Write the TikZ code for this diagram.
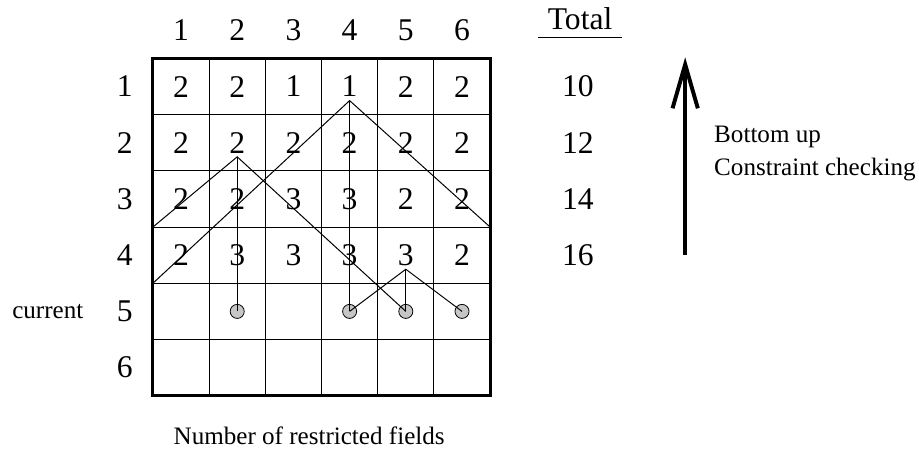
\documentclass[tikz,border=0pt]{standalone}
\usepackage{fontspec}
\setmainfont{Liberation Serif}
\usetikzlibrary{arrows.meta}
\begin{document}
\begin{tikzpicture}[x=1cm, y=1cm,
  big/.style={font=\fontsize{16}{19}\selectfont},
  small/.style={font=\fontsize{12.7}{15}\selectfont},
  dot/.style={circle, draw, line width=0.4pt, fill=gray!45, minimum size=0.25cm, inner sep=0pt},
  trace/.style={line width=0.5pt}]
\useasboundingbox (-2.72,-6.95) rectangle (13.63,1.04);
% Draw grid with thick border
\draw[line width=0.5pt] (0,-6) grid (6,0);
\draw[line width=1.5pt] (0,0) rectangle (6,-6);
% Column and row numbers
\foreach \i in {1,...,6} {
  \node[big] (col\i) at (\i-0.5,0.5) {\i};
  \node[big] (row\i) at (-0.5,-\i+0.5) {\i};
}
% Number of restricted fields per cell
\foreach \r/\vals in {1/{2,2,1,1,2,2}, 2/{2,2,2,2,2,2}, 3/{2,2,3,3,2,2}, 4/{2,3,3,3,3,2}} {
  \foreach \v [count=\c] in \vals
    \node[big] (n\r\c) at (\c-0.5,-\r+0.5) {\v};
}
% Totals
\node[big] (total) at (7.6,0.7) {Total};
\draw[line width=0.5pt] (6.85,0.37) -- (8.35,0.37);
\foreach \r/\t in {1/10, 2/12, 3/14, 4/16}
  \node[big] (tot\r) at (7.56,-\r+0.5) {\t};
% Labels
\node[small] (current) at (-1.87,-4.5) {current};
\node[small] (caption) at (2.78,-6.72) {Number of restricted fields};
\node[small, anchor=west, inner sep=0pt] (bottomup) at (9.98,-1.4) {Bottom up};
\node[small, anchor=west, inner sep=0pt] (checking) at (9.98,-1.98) {Constraint checking};
% Bottom up arrow
\coordinate (arrowfoot) at (9.47,-3.5);
\coordinate (arrowtip) at (9.47,0.02);
\draw[line width=2pt, -{Straight Barb[length=0.78cm, width=0.45cm]}] (arrowfoot) -- (arrowtip);
% Current row values
\foreach \c in {2,4,5,6}
  \node[dot] (d\c) at (\c-0.5,-4.5) {};
% Check points and border ends
\coordinate (apexA) at (3.5,-0.75);
\coordinate (apexB) at (1.5,-1.75);
\coordinate (apexC) at (4.5,-3.75);
\coordinate (leftA) at (0,-4);
\coordinate (rightA) at (6,-3);
\coordinate (leftB) at (0,-3);
% Constraint lines
\draw[trace] (leftA) -- (apexA) -- (rightA);
\draw[trace] (apexA) -- (d4.center);
\draw[trace] (leftB) -- (apexB) -- (d5.center);
\draw[trace] (apexB) -- (d2.center);
\draw[trace] (d4.center) -- (apexC) -- (d6.center);
\draw[trace] (apexC) -- (d5.center);
\end{tikzpicture}
\end{document}
